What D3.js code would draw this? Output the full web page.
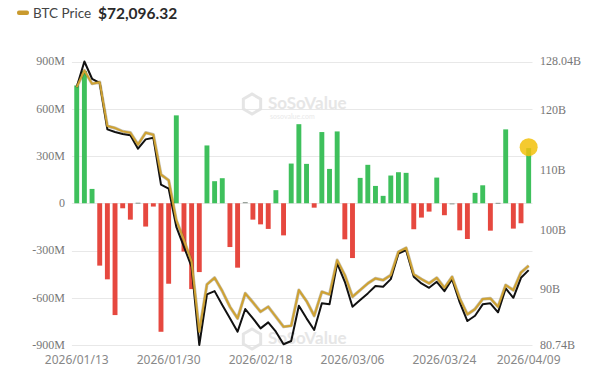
<!DOCTYPE html>
<html><head><meta charset="utf-8">
<script src="https://cdn.jsdelivr.net/npm/d3@7"></script>
<style>
html,body{margin:0;padding:0;background:#fff;}
svg{display:block;}
</style></head>
<body>
<svg id="chart" width="601" height="372"></svg>
<script>
const dates = ["2026/01/13","2026/01/14","2026/01/15","2026/01/16","2026/01/20","2026/01/21","2026/01/22","2026/01/23","2026/01/26","2026/01/27","2026/01/28","2026/01/29","2026/01/30",
"2026/02/02","2026/02/03","2026/02/04","2026/02/05","2026/02/06","2026/02/09","2026/02/10","2026/02/11","2026/02/12","2026/02/13","2026/02/17","2026/02/18","2026/02/19","2026/02/20","2026/02/23","2026/02/24","2026/02/25","2026/02/26","2026/02/27",
"2026/03/02","2026/03/03","2026/03/04","2026/03/05","2026/03/06","2026/03/09","2026/03/10","2026/03/11","2026/03/12","2026/03/13","2026/03/16","2026/03/17","2026/03/18","2026/03/19","2026/03/20","2026/03/23","2026/03/24","2026/03/25","2026/03/26","2026/03/27","2026/03/30","2026/03/31",
"2026/04/01","2026/04/02","2026/04/06","2026/04/07","2026/04/08","2026/04/09"];

// daily net inflow (USD millions)
const netInflow = [748,840,91,-396,-483,-710,-32,-104,4,-148,-21,-816,-511,558,-307,-545,-437,367,140,159,
-278,-409,8,-104,-134,-163,83,-204,252,502,250,-28,452,218,456,-229,-348,161,244,110,
47,176,197,193,-165,-91,-53,163,-76,-3,-172,-227,66,114,-174,3,469,-161,-127,350];

// total net assets (USD billions)
const netAssets = [123.76,128.04,125.16,124.49,116.72,116.27,115.93,115.72,113.50,115.05,115.33,107.51,106.84,100.44,97.11,93.78,80.74,89.18,89.73,87.40,
85.19,82.96,86.74,85.19,83.52,84.52,82.96,80.86,81.41,87.29,85.19,83.24,87.69,87.52,94.35,91.28,87.12,88.24,89.35,90.57,
90.45,91.73,96.01,96.56,92.12,91.02,90.28,91.28,89.73,91.73,87.85,84.74,85.62,87.52,87.69,86.19,90.18,88.62,91.95,93.23];

// BTC price (USD)
const btcPrice = [94564,96661,94991,95192,89669,89418,89003,88840,87334,88840,88589,83568,82852,77831,75321,72597,63810,69760,70588,68919,
66948,65492,68630,67500,66320,66948,65692,64437,64563,69044,67663,65818,68831,68504,72810,70927,68203,69044,69885,70513,
70299,70927,73852,74354,71015,70425,69885,70588,69333,70714,68002,65994,66659,67914,68002,66948,69672,69044,71266,72096.32];

const leftTicks = [-900,-600,-300,0,300,600,900];
const leftTickLabels = ["-900M","-600M","-300M","0","300M","600M","900M"];
const rightTicks = [80.74,90,100,110,120,128.04];
const rightTickLabels = ["80.74B","90B","100B","110B","120B","128.04B"];
const xTickDates = ["2026/01/13","2026/01/30","2026/02/18","2026/03/06","2026/03/24","2026/04/09"];
const legendLabel = "BTC Price";
const latestPrice = "$72,096.32";

const svg = d3.select("#chart");
const X0 = 72.9, X1 = 532.5, YT = 61.5, YB = 345;

const x = d3.scaleBand().domain(dates).range([X0, X1]).paddingInner(0.36).paddingOuter(0.18);
const yL = d3.scaleLinear().domain([-900, 900]).range([YB, YT]);
const yR = d3.scaleLinear().domain([80.74, 128.04]).range([YB, YT]);
const yP = d3.scaleLinear().domain([62140, 97790]).range([YB, YT]);

// header
const hdr = svg.append("g");
hdr.append("rect").attr("x", 17).attr("y", 10.5).attr("width", 12).attr("height", 4.5).attr("rx", 2).attr("fill", "#c99a2e");
hdr.append("text").attr("x", 33).attr("y", 18).attr("font-family", "Lato, 'Open Sans', sans-serif").attr("font-size", 13.5).attr("fill", "#444").text(legendLabel);
hdr.append("text").attr("x", 98).attr("y", 18.5).attr("font-family", "Lato, 'Open Sans', sans-serif").attr("font-size", 15.5).attr("font-weight", "bold").attr("fill", "#2a2a2a").text(latestPrice);

// gridlines
svg.append("g").selectAll("line").data(leftTicks).join("line")
  .attr("x1", X0 - 1).attr("x2", X1).attr("y1", d => Math.round(yL(d)) + 0.5).attr("y2", d => Math.round(yL(d)) + 0.5)
  .attr("stroke", "#e8e8e8").attr("stroke-width", 1);

// watermarks
function watermark(cx, cy, withSub) {
  const g = svg.append("g").attr("opacity", 0.9);
  const r = 10;
  const hex = d3.range(6).map(i => [cx - 48 + r * Math.cos(Math.PI / 3 * i + Math.PI / 6), cy + r * Math.sin(Math.PI / 3 * i + Math.PI / 6)]);
  g.append("polygon").attr("points", hex.map(p => p.join(",")).join(" ")).attr("fill", "none").attr("stroke", "#e2e2e2").attr("stroke-width", 3);
  g.append("text").attr("x", cx - 32).attr("y", cy + 5).attr("font-family", "Lato, sans-serif").attr("font-size", 17).attr("font-weight", "bold").attr("fill", "#e4e4e4").text("SoSoValue");
  if (withSub) g.append("text").attr("x", cx - 30).attr("y", cy + 15).attr("font-family", "Lato, sans-serif").attr("font-size", 7).attr("fill", "#e8e8e8").text("sosovalue.com");
}
watermark(300, 104, true);
watermark(300, 339, false);

// bars
svg.append("g").selectAll("rect").data(dates).join("rect")
  .attr("x", d => x(d))
  .attr("width", x.bandwidth())
  .attr("y", (d, i) => netInflow[i] >= 0 ? yL(netInflow[i]) : yL(0))
  .attr("height", (d, i) => Math.max(1.2, Math.abs(yL(netInflow[i]) - yL(0))))
  .attr("fill", (d, i) => Math.abs(netInflow[i]) < 10 ? "#9aa39c" : (netInflow[i] >= 0 ? "#3ec05c" : "#e6483f"));

const cx = d => x(d) + x.bandwidth() / 2;

// net assets (black)
svg.append("path").datum(dates)
  .attr("d", d3.line().x(d => cx(d)).y((d, i) => yR(netAssets[i])))
  .attr("fill", "none").attr("stroke", "#111").attr("stroke-width", 2).attr("stroke-linejoin", "round");

// btc price (gold)
svg.append("path").datum(dates)
  .attr("d", d3.line().x(d => cx(d)).y((d, i) => yP(btcPrice[i])))
  .attr("fill", "none").attr("stroke", "#5a4a20").attr("stroke-width", 3.2).attr("stroke-linejoin", "round").attr("opacity", 0.35);
svg.append("path").datum(dates)
  .attr("d", d3.line().x(d => cx(d)).y((d, i) => yP(btcPrice[i])))
  .attr("fill", "none").attr("stroke", "#cfa232").attr("stroke-width", 2).attr("stroke-linejoin", "round");

// highlight dot on latest bar
const last = dates.length - 1;
svg.append("circle").attr("cx", cx(dates[last])).attr("cy", yL(netInflow[last]) - 1).attr("r", 9)
  .attr("fill", "#f2c10a").attr("opacity", 0.85);

// left axis labels
svg.append("g").selectAll("text").data(leftTicks).join("text")
  .attr("x", 65).attr("y", d => yL(d)).attr("dy", "0.33em").attr("text-anchor", "end")
  .attr("font-family", "'Liberation Serif', serif").attr("font-size", 12).attr("fill", "#777")
  .text((d, i) => leftTickLabels[i]);

// right axis labels
svg.append("g").selectAll("text").data(rightTicks).join("text")
  .attr("x", 540).attr("y", d => yR(d)).attr("dy", "0.33em").attr("text-anchor", "start")
  .attr("font-family", "'Liberation Serif', serif").attr("font-size", 12).attr("fill", "#777")
  .text((d, i) => rightTickLabels[i]);

// x axis labels
svg.append("g").selectAll("text").data(xTickDates).join("text")
  .attr("x", d => cx(d)).attr("y", 363.5).attr("text-anchor", "middle")
  .attr("font-family", "'Noto Sans', 'Open Sans', sans-serif").attr("font-size", 12).attr("fill", "#888")
  .text(d => d);
</script>
</body></html>
